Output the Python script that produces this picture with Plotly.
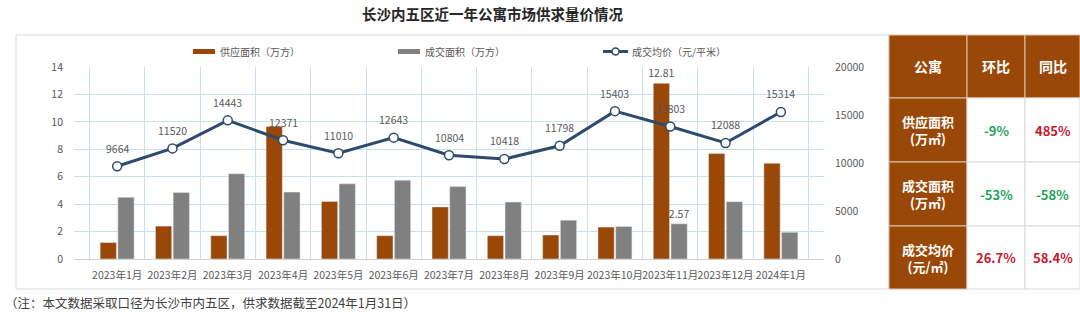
import plotly.graph_objects as go

# ---- data ----
months = ["2023年1月", "2023年2月", "2023年3月", "2023年4月", "2023年5月", "2023年6月",
          "2023年7月", "2023年8月", "2023年9月", "2023年10月", "2023年11月", "2023年12月",
          "2024年1月"]
supply_area = [1.2, 2.4, 1.7, 9.66, 4.2, 1.7, 3.8, 1.7, 1.75, 2.33, 12.81, 7.7, 6.98]
deal_area = [4.5, 4.85, 6.22, 4.88, 5.48, 5.75, 5.28, 4.15, 2.83, 2.37, 2.57, 4.18, 1.95]
avg_price = [9664, 11520, 14443, 12371, 11010, 12643, 10804, 10418, 11798, 15403, 13803,
             12088, 15314]
labelled_month = "2023年11月"

legend_names = ["供应面积（万方）", "成交面积（万方）", "成交均价（元/平米）"]

table_header = ["公寓", "环比", "同比"]
table_rows = ["供应面积<br>(万㎡)", "成交面积<br>(万㎡)", "成交均价<br>(元/㎡)"]
table_mom = ["-9%", "-53%", "26.7%"]
table_yoy = ["485%", "-58%", "58.4%"]

title_text = "长沙内五区近一年公寓市场供求量价情况"
note_text = "（注：本文数据采取口径为长沙市内五区，供求数据截至2024年1月31日）"

# ---- style ----
FONT = "Noto Sans CJK SC"
BROWN = "#9A4808"
GRAY = "#808080"
NAVY = "#2E4A6D"
GRID = "#C8E0EA"
TXT = "#595959"
GREEN = "#1FA35A"
RED = "#C8182E"

W, H = 1080, 322
L, R, T, B = 74, 256, 67, 63
PW, PH = W - L - R, H - T - B


def px(x):
    return (x - L) / PW


def py(y):
    return (H - B - y) / PH


def paper_text(x, y, text, size, color, anchor="center"):
    return dict(x=px(x), y=py(y), xref="paper", yref="paper", text=text,
                xanchor=anchor, yanchor="middle", showarrow=False,
                font=dict(size=size, color=color, family=FONT))


def bar_text(values):
    return [f"{v:.2f}" if m == labelled_month else "" for m, v in zip(months, values)]


fig = go.Figure()

fig.add_trace(go.Bar(
    x=months, y=supply_area, name=legend_names[0], marker_color=BROWN,
    text=bar_text(supply_area), textposition="outside", constraintext="none",
    cliponaxis=False, textfont=dict(size=10.5, color=TXT, family=FONT),
    showlegend=False,
))
fig.add_trace(go.Bar(
    x=months, y=deal_area, name=legend_names[1], marker_color=GRAY,
    text=bar_text(deal_area), textposition="outside", constraintext="none",
    cliponaxis=False, textfont=dict(size=10.5, color=TXT, family=FONT),
    showlegend=False,
))
fig.add_trace(go.Scatter(
    x=months, y=avg_price, name=legend_names[2], yaxis="y2", mode="lines+markers",
    line=dict(color=NAVY, width=3),
    marker=dict(size=9, color="white", line=dict(color=NAVY, width=1.5)),
    cliponaxis=False, showlegend=False,
))

annotations = []
# price labels above each point
for m, p in zip(months, avg_price):
    annotations.append(dict(
        x=m, y=p, xref="x", yref="y2", text=str(p), showarrow=False, yshift=18,
        xanchor="center", yanchor="middle",
        font=dict(size=10.5, color=TXT, family=FONT),
    ))

# title and footnote
annotations.append(paper_text(492, 14, f"<b>{title_text}</b>", 14.5, "#262626"))
annotations.append(paper_text(3, 302, note_text, 12.5, "#404040", anchor="left"))

shapes = []
# outer frame of the chart
shapes.append(dict(type="rect", xref="paper", yref="paper",
                   x0=px(16), x1=px(889), y0=py(289), y1=py(35),
                   line=dict(color="#D9D9D9", width=1), fillcolor="rgba(0,0,0,0)",
                   layer="below"))

# legend
leg_y = 51.5
for (x0, x1, color), (tx, name) in zip(
        [(193, 215, BROWN), (398, 420, GRAY)],
        [(218, legend_names[0]), (423, legend_names[1])]):
    shapes.append(dict(type="rect", xref="paper", yref="paper",
                       x0=px(x0), x1=px(x1), y0=py(leg_y + 2.5), y1=py(leg_y - 2.5),
                       line=dict(width=0), fillcolor=color))
    annotations.append(paper_text(tx, leg_y, name, 10, TXT, anchor="left"))
shapes.append(dict(type="line", xref="paper", yref="paper",
                   x0=px(603), x1=px(628), y0=py(leg_y), y1=py(leg_y),
                   line=dict(color=NAVY, width=3)))
shapes.append(dict(type="circle", xref="paper", yref="paper",
                   x0=px(612), x1=px(619), y0=py(leg_y + 3.5), y1=py(leg_y - 3.5),
                   line=dict(color=NAVY, width=1.5), fillcolor="white"))
annotations.append(paper_text(630, leg_y, legend_names[2], 10, TXT, anchor="left"))

# summary table
col_edges = [889, 967, 1025, 1080]
row_edges = [35, 98, 162, 226, 289]
cells = [table_header] + [[r, a, b] for r, a, b in zip(table_rows, table_mom, table_yoy)]
for ri in range(4):
    for ci in range(3):
        brown = ri == 0 or ci == 0
        x0, x1 = col_edges[ci], col_edges[ci + 1]
        y0, y1 = row_edges[ri], row_edges[ri + 1]
        shapes.append(dict(type="rect", xref="paper", yref="paper",
                           x0=px(x0), x1=px(x1), y0=py(y1), y1=py(y0),
                           line=dict(color="#DCC3A8" if brown else "#D9D9D9", width=1),
                           fillcolor=BROWN if brown else "white"))
        txt = cells[ri][ci]
        if brown:
            color = "white"
        else:
            color = GREEN if txt.startswith("-") else RED
        annotations.append(paper_text((x0 + x1) / 2, (y0 + y1) / 2, f"<b>{txt}</b>",
                                      14 if ri == 0 else 13, color))

fig.update_layout(
    width=W, height=H,
    margin=dict(l=L, r=R, t=T, b=B, pad=0, autoexpand=False),
    paper_bgcolor="white", plot_bgcolor="white",
    barmode="group", bargap=0.36, bargroupgap=0.08,
    font=dict(family=FONT, color=TXT),
    showlegend=False,
    xaxis=dict(
        type="category", tickson="boundaries", showgrid=True, gridcolor=GRID, gridwidth=1,
        showline=True, linecolor="#D0D0D0", ticks="", ticklabelstandoff=6,
        tickangle=0, automargin=False,
        tickfont=dict(size=10.5, color=TXT, family=FONT),
    ),
    yaxis=dict(
        range=[0, 14], dtick=2, showgrid=True, gridcolor=GRID, gridwidth=1,
        zeroline=False, ticks="", ticklabelstandoff=10, automargin=False,
        tickfont=dict(size=10.5, color=TXT, family=FONT),
    ),
    yaxis2=dict(
        range=[0, 20000], dtick=5000, overlaying="y", side="right", showgrid=False,
        zeroline=False, ticks="", ticklabelstandoff=10, automargin=False,
        tickformat="d",
        tickfont=dict(size=10.5, color=TXT, family=FONT),
    ),
    shapes=shapes,
    annotations=annotations,
)

fig.write_html("out.html")
